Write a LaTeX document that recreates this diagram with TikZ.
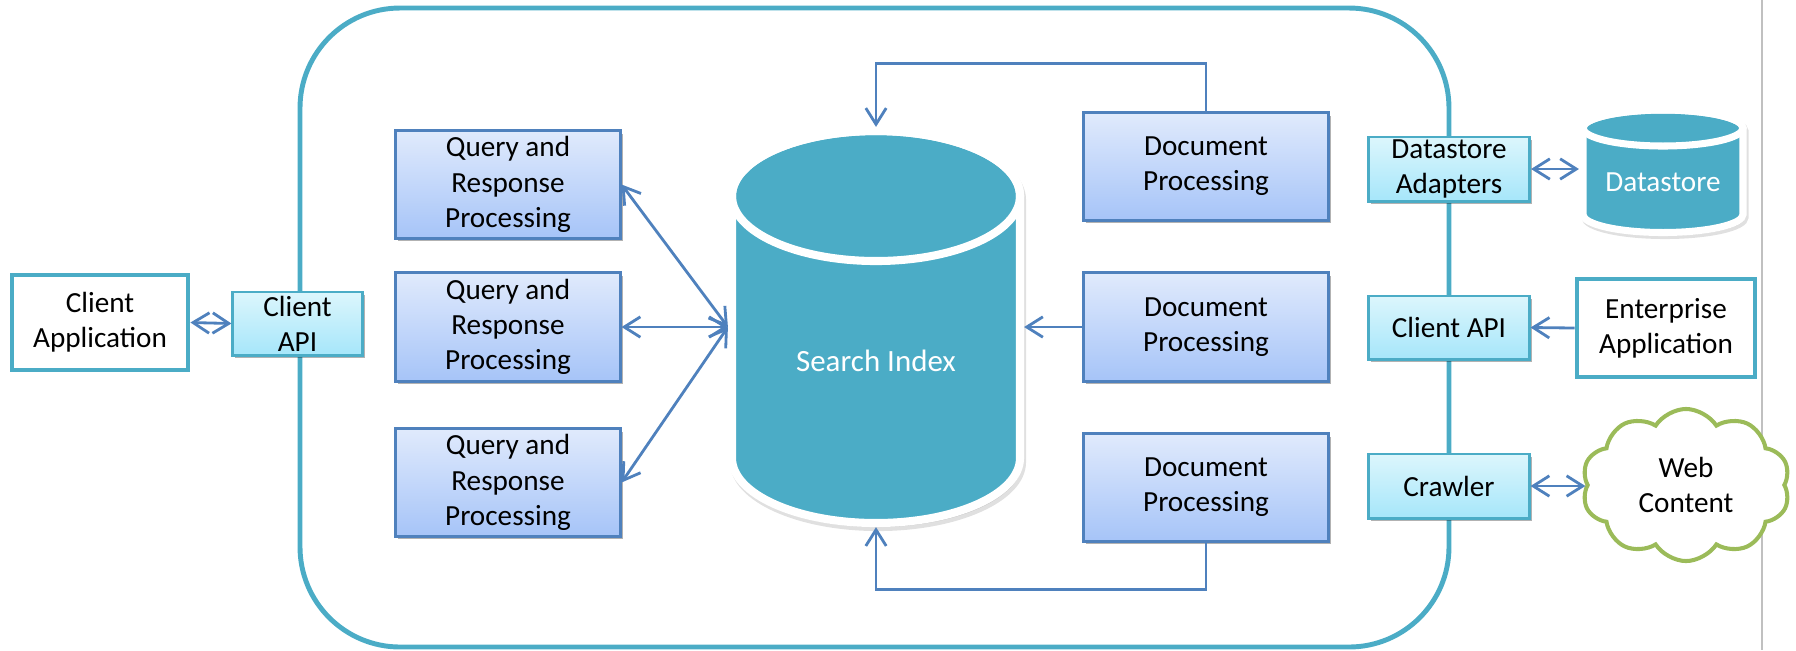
\documentclass[tikz,border=0pt]{standalone}
\usepackage{fontspec}
\setmainfont{Carlito}
\usetikzlibrary{arrows.meta,shapes.symbols,shadows,calc}

\definecolor{frameteal}{HTML}{4BACC6}
\definecolor{arrowblue}{HTML}{4F81BD}
\definecolor{procTop}{HTML}{E0EAFC}
\definecolor{procBot}{HTML}{A6C4F8}
\definecolor{apiTop}{HTML}{DCF6FC}
\definecolor{apiBot}{HTML}{A6E6FA}
\definecolor{cloudgreen}{HTML}{9BBB59}
\definecolor{rulegray}{HTML}{C0C0C0}

\begin{document}
\begin{tikzpicture}[x=0.01cm,y=-0.01cm,
  font=\fontsize{8.3pt}{10pt}\selectfont,
  >={Straight Barb[length=4.6pt,width=5.8pt]},
  boxshadow/.style={drop shadow={shadow xshift=0.7pt,shadow yshift=-0.9pt,opacity=0.3,fill=black}},
  procbox/.style={draw=arrowblue,line width=0.85pt,top color=procTop,bottom color=procBot,
    align=center,boxshadow,inner sep=0pt},
  apibox/.style={draw=frameteal,line width=0.85pt,top color=apiTop,bottom color=apiBot,
    align=center,boxshadow,inner sep=0pt},
  appbox/.style={draw=frameteal,line width=1.35pt,fill=white,align=center,inner sep=0pt},
  link/.style={draw=arrowblue,line width=0.8pt},
  ghost/.style={inner sep=0pt,outer sep=0pt},
  cylwhite/.style={draw=white,fill=frameteal},
  cylshade/.style={fill=black,draw=black,opacity=0.12}
]
\useasboundingbox (0,0) rectangle (1796,650);

% separator rule on the right
\draw[rulegray,line width=0.8pt] (1762,0) -- (1762,650);

% service boundary
\draw[frameteal,line width=1.4pt,rounded corners=1cm] (300,8) rectangle (1449,647);

% ---- search index cylinder ----
\def\sibody{(732,196) -- (732,458)
  .. controls (732,493.9) and (796.5,523) .. (876,523)
  .. controls (955.5,523) and (1020,493.9) .. (1020,458)
  -- (1020,196)
  .. controls (1020,160.1) and (955.5,131) .. (876,131)
  .. controls (796.5,131) and (732,160.1) .. (732,196) -- cycle}
\path[cylshade,line width=2.3pt,shift={(2,4)}] \sibody;
\path[cylwhite,line width=2.3pt] \sibody;
\draw[white,line width=2.3pt] (876,196) ellipse [x radius=144,y radius=65];
\node[ghost,minimum width=2.96cm,minimum height=4cm] (si) at (876,327) {};
\node[ghost,text=white,font=\fontsize{8.8pt}{10pt}\selectfont] (silabel) at (876,361) {Search Index};

% ---- datastore cylinder ----
\def\dsbody{(1583,128) -- (1583,214.5)
  .. controls (1583,224.4) and (1618.8,232.5) .. (1663,232.5)
  .. controls (1707.2,232.5) and (1743,224.4) .. (1743,214.5)
  -- (1743,128)
  .. controls (1743,118.1) and (1707.2,110) .. (1663,110)
  .. controls (1618.8,110) and (1583,118.1) .. (1583,128) -- cycle}
\path[cylshade,line width=2pt,shift={(2,3)}] \dsbody;
\path[cylwhite,line width=2pt] \dsbody;
\draw[white,line width=2pt] (1663,128) ellipse [x radius=80,y radius=18];
\node[ghost,minimum width=1.68cm,minimum height=1.29cm] (ds) at (1663,171.5) {};
\node[ghost,text=white] (dslabel) at (1663,182) {Datastore};

% ---- left side ----
\node[appbox,minimum width=1.76cm,minimum height=0.95cm] (capp) at (100,322.5) {Client\\Application};
\node[apibox,minimum width=1.29cm,minimum height=0.63cm] (capil) at (297.5,323.5) {Client\\API};

% ---- query and response processing ----
\node[procbox,minimum width=2.24cm,minimum height=1.07cm] (qr1) at (508,184.5) {Query and\\Response\\Processing};
\node[procbox,minimum width=2.24cm,minimum height=1.08cm] (qr2) at (508,327) {Query and\\Response\\Processing};
\node[procbox,minimum width=2.24cm,minimum height=1.07cm] (qr3) at (508,482.5) {Query and\\Response\\Processing};

% ---- document processing ----
\node[procbox,minimum width=2.44cm,minimum height=1.07cm] (dp1) at (1206,166.5) {Document\\Processing};
\node[procbox,minimum width=2.44cm,minimum height=1.08cm] (dp2) at (1206,327) {Document\\Processing};
\node[procbox,minimum width=2.44cm,minimum height=1.07cm] (dp3) at (1206,487.5) {Document\\Processing};

% ---- right side adapters ----
\node[apibox,minimum width=1.61cm,minimum height=0.64cm] (dsa) at (1449,169) {Datastore\\Adapters};
\node[apibox,minimum width=1.60cm,minimum height=0.63cm] (capir) at (1449,327.5) {Client API};
\node[apibox,minimum width=1.60cm,minimum height=0.64cm] (crawl) at (1449,486) {Crawler};

\node[appbox,minimum width=1.78cm,minimum height=0.98cm] (ent) at (1666,328) {Enterprise\\Application};
\node[cloud,cloud puffs=10,cloud puff arc=115,cloud ignores aspect,draw=cloudgreen,
  line width=1.15pt,fill=white,align=center,inner sep=0pt,
  minimum width=2.08cm,minimum height=1.52cm] (web) at (1686,485) {Web\\Content};

% ---- connectors ----
\draw[link,<->] (capp.east) -- (capil.west);
\draw[link,<->] (qr1.east) -- (si.west);
\draw[link,<->] (qr2.east) -- (si.west);
\draw[link,<->] (qr3.east) -- (si.west);
\draw[link,->] (dp2.west) -- (si.east);
\draw[link,->] (dp1.north) -- ++(0,-48) -| (si.north);
\draw[link,->] (dp3.south) -- ++(0,47) -| (si.south);
\draw[link,<->] (dsa.east) -- (dsa.east -| ds.west);
\draw[link,->] (ent.west) -- (capir.east);
\draw[link,<->] (crawl.east) -- (crawl.east -| web.west);
\end{tikzpicture}
\end{document}
